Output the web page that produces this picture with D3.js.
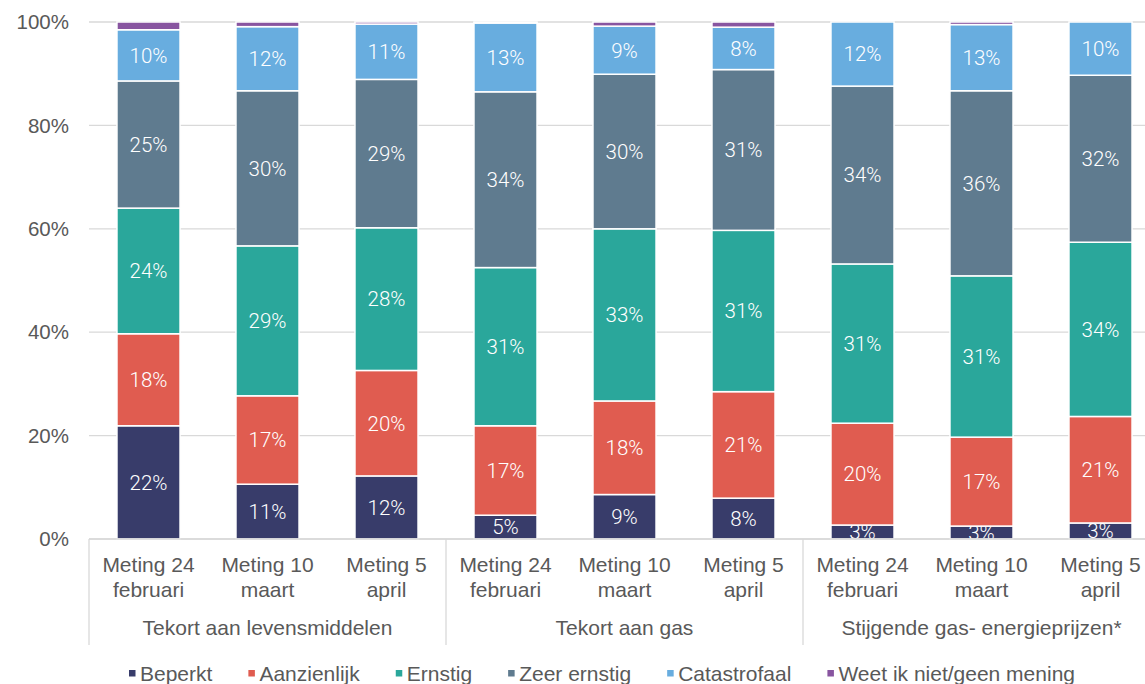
<!DOCTYPE html>
<html>
<head>
<meta charset="utf-8">
<script src="https://cdn.jsdelivr.net/npm/d3@7"></script>
<style>
	body { margin: 0; background: #fff; }
	svg { display: block; }
</style>
</head>
<body>
<svg width="1145" height="684"></svg>
<script>
// categories (two-line tick labels) and groups
const tickLines = [
	["Meting 24", "februari"],
	["Meting 10", "maart"],
	["Meting 5", "april"],
]
const groups = ["Tekort aan levensmiddelen", "Tekort aan gas", "Stijgende gas- energieprijzen*"]
const series = ["Beperkt", "Aanzienlijk", "Ernstig", "Zeer ernstig", "Catastrofaal", "Weet ik niet/geen mening"]
const colors = ["#383c6a", "#e05c50", "#2aa79b", "#5f7b8f", "#68addf", "#8855a0"]

// one array per series, 9 bars (3 groups x 3 metingen)
const beperkt      = [21.9, 10.6, 12.2, 4.6, 8.6, 7.9, 2.7, 2.5, 3.1]
const aanzienlijk  = [17.8, 17.1, 20.4, 17.3, 18.1, 20.6, 19.7, 17.2, 20.6]
const ernstig      = [24.3, 29.0, 27.6, 30.6, 33.3, 31.2, 30.8, 31.2, 33.7]
const zeerErnstig  = [24.6, 30.0, 28.7, 34.0, 29.9, 31.1, 34.4, 35.8, 32.3]
const catastrofaal = [9.9, 12.4, 10.7, 13.3, 9.3, 8.2, 12.4, 12.8, 10.3]
const weetNiet     = [1.5, 0.9, 0.4, 0.2, 0.8, 1.0, 0.0, 0.5, 0.0]
const values = [beperkt, aanzienlijk, ernstig, zeerErnstig, catastrofaal, weetNiet]

const yTicks = [0, 20, 40, 60, 80, 100]

const svg = d3.select("svg")
const plotLeft = 89, plotRight = 1160, plotTop = 22, plotBottom = 539
const axisFont = "Liberation Sans, Arial, sans-serif"

const rows = d3.range(9).map(i => {
	const r = { i }
	series.forEach((s, k) => (r[s] = values[k][i]))
	return r
})

const x = d3.scaleBand()
	.domain(d3.range(9))
	.range([plotLeft, plotRight])
	.paddingInner(0.47)
	.paddingOuter(0.235)

const y = d3.scaleLinear().domain([0, 100]).range([plotBottom, plotTop])

// gridlines + y labels
svg.append("g")
	.selectAll("line")
	.data(yTicks)
	.join("line")
	.attr("x1", plotLeft)
	.attr("x2", 1145)
	.attr("y1", d => y(d))
	.attr("y2", d => y(d))
	.attr("stroke", "#d9d9d9")
	.attr("stroke-width", 1.3)

svg.append("g")
	.selectAll("text")
	.data(yTicks)
	.join("text")
	.attr("x", 69)
	.attr("y", d => y(d))
	.attr("dy", "0.35em")
	.attr("text-anchor", "end")
	.style("font-family", axisFont)
	.style("font-size", "20.5px")
	.style("fill", "#595959")
	.text(d => d + "%")

// stacked bars
const stack = d3.stack().keys(series)(rows)

const layer = svg.append("g")
	.selectAll("g")
	.data(stack)
	.join("g")
	.attr("fill", (d, k) => colors[k])

layer.selectAll("rect")
	.data(d => d)
	.join("rect")
	.attr("x", d => x(d.data.i))
	.attr("width", x.bandwidth())
	.attr("y", d => y(d[1]))
	.attr("height", d => y(d[0]) - y(d[1]))
	.attr("stroke", "#fff")
	.attr("stroke-width", 1.5)

layer.selectAll("text")
	.data((d, k) => d.map(p => ({ p, k })))
	.join("text")
	.filter(d => d.k < 5)
	.attr("x", d => x(d.p.data.i) + x.bandwidth() / 2)
	.attr("y", d => (y(d.p[0]) + y(d.p[1])) / 2)
	.attr("dy", "0.36em")
	.attr("text-anchor", "middle")
	.style("font-family", "Roboto, sans-serif")
	.style("font-weight", 300)
	.style("font-size", "20.5px")
	.style("fill", "#fff")
	.text(d => Math.round(d.p[1] - d.p[0]) + "%")

// x axis: baseline, group separators, tick labels, group labels
const axis = svg.append("g")
axis.append("line")
	.attr("x1", plotLeft).attr("x2", 1145)
	.attr("y1", plotBottom).attr("y2", plotBottom)
	.attr("stroke", "#d9d9d9").attr("stroke-width", 1.3)

const step = x.step()
axis.selectAll(".sep")
	.data(d3.range(3))
	.join("line")
	.attr("class", "sep")
	.attr("x1", g => plotLeft + g * 3 * step)
	.attr("x2", g => plotLeft + g * 3 * step)
	.attr("y1", plotBottom)
	.attr("y2", 645)
	.attr("stroke", "#d9d9d9")
	.attr("stroke-width", 1.3)

const tick = axis.selectAll(".tick")
	.data(d3.range(9))
	.join("text")
	.attr("class", "tick")
	.attr("x", i => x(i) + x.bandwidth() / 2)
	.attr("y", 572)
	.attr("text-anchor", "middle")
	.style("font-family", axisFont)
	.style("font-size", "21px")
	.style("fill", "#595959")
tick.append("tspan").text(i => tickLines[i % 3][0])
tick.append("tspan")
	.attr("x", i => x(i) + x.bandwidth() / 2)
	.attr("dy", 24.5)
	.text(i => tickLines[i % 3][1])

axis.selectAll(".group")
	.data(groups)
	.join("text")
	.attr("class", "group")
	.attr("x", (g, k) => x(k * 3 + 1) + x.bandwidth() / 2)
	.attr("y", 635)
	.attr("text-anchor", "middle")
	.style("font-family", axisFont)
	.style("font-size", "21px")
	.style("fill", "#595959")
	.text(d => d)

// legend
const legend = svg.append("g").attr("transform", "translate(0,681)")
const items = legend.selectAll("g")
	.data(series)
	.join("g")
items.append("rect")
	.attr("y", -11)
	.attr("width", 6.5)
	.attr("height", 6.5)
	.attr("fill", (d, k) => colors[k])
items.append("text")
	.attr("x", 11)
	.style("font-family", axisFont)
	.style("font-size", "21px")
	.style("fill", "#595959")
	.text(d => d)

const gap = 36
const widths = []
items.each(function () {
	widths.push(11 + this.querySelector("text").getComputedTextLength())
})
const total = d3.sum(widths) + gap * (widths.length - 1)
let cx = 602 - total / 2
items.attr("transform", (d, k) => {
	const t = "translate(" + cx + ",0)"
	cx += widths[k] + gap
	return t
})
</script>
</body>
</html>
